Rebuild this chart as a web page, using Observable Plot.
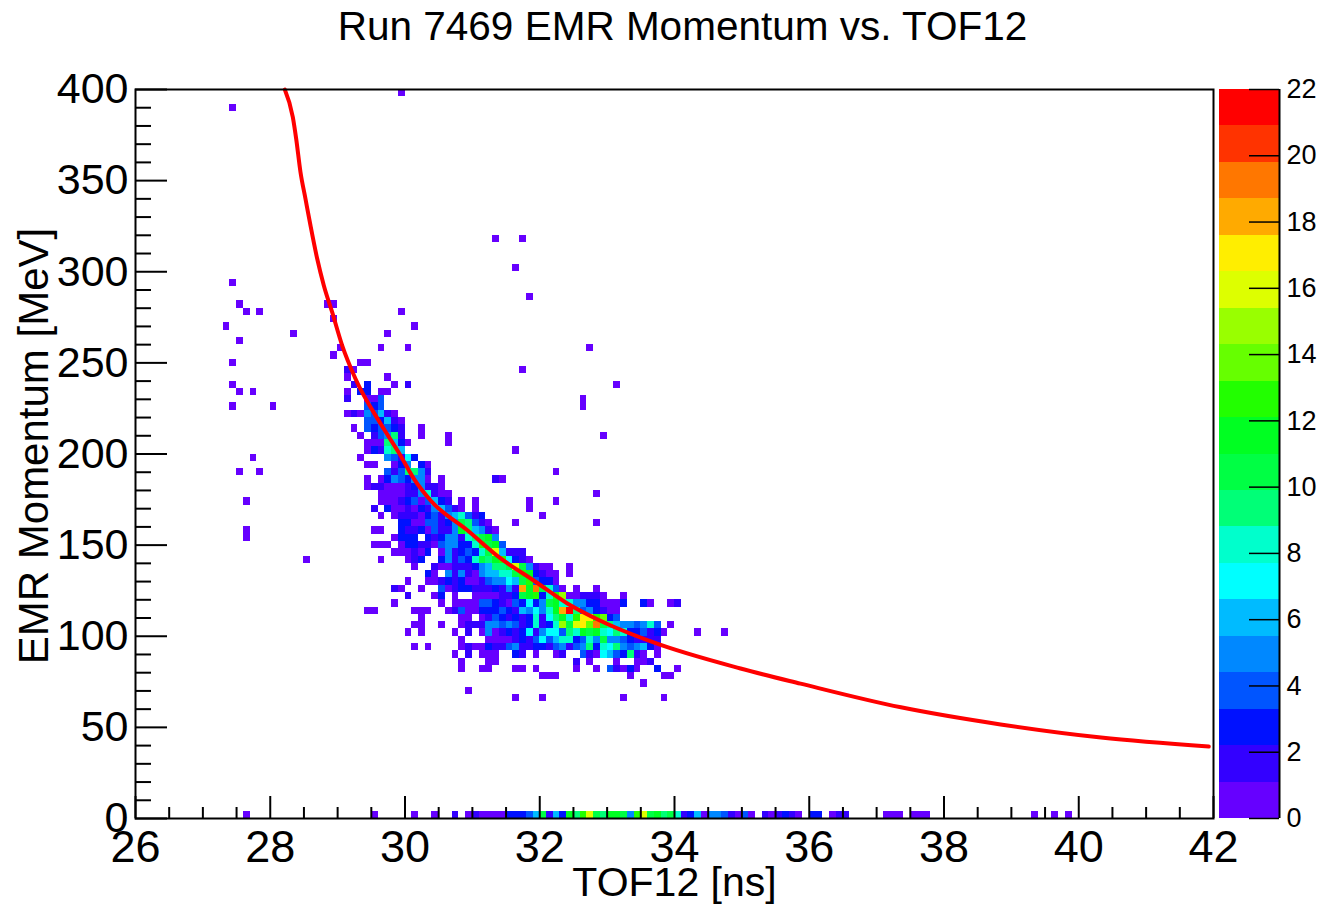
<!DOCTYPE html>
<html><head><meta charset="utf-8">
<script src="https://cdn.jsdelivr.net/npm/d3@7"></script>
<script src="https://cdn.jsdelivr.net/npm/@observablehq/plot@0.6"></script>
<style>
html,body{margin:0;padding:0;background:#fff;}
#wrap{position:relative;width:1322px;height:905px;overflow:hidden;}
#wrap svg{position:absolute;top:0;}
</style></head><body><div id="wrap"></div>
<script>
// ---- Histogram: each entry = one run of TOF bins (0.1 ns) in one momentum row (4 MeV) ----
const tofBinWidth = 0.1;   // ns
const momBinWidth = 4;     // MeV
// momentum (bin low edge, MeV) of each run
const momRowLow = [
  396, 388, 316, 300, 292, 284, 280, 280, 276, 276, 272, 268, 268, 264, 264, 260,
  256, 256, 252, 248, 248, 244, 244, 240, 236, 236, 236, 232, 232, 228, 228,
  224, 224, 224, 224, 220, 216, 212, 208, 208, 204, 200, 200, 196, 196, 192,
  188, 188, 188, 184, 180, 176, 176, 172, 172, 172, 168, 168, 164, 164, 160, 160,
  156, 156, 152, 152, 148, 144, 140, 140, 136, 132, 128, 124, 120, 116, 112, 108,
  104, 100, 100, 96, 92, 88, 84, 84, 80, 80, 76, 76, 76, 72, 68, 64, 64, 64, 64,
  0, 0, 0, 0, 0, 0, 0
];
// TOF (bin low edge, ns) where each run starts
const rowTofStart = [
  29.9, 27.4, 31.3, 31.6, 27.4, 31.8, 27.5, 28.8, 27.6, 29.9, 28.9, 27.3, 30.1, 28.3, 29.7, 27.5,
  29.0, 32.7, 28.9, 27.4, 29.3, 29.1, 31.7, 29.1, 27.4, 29.2, 33.1, 27.5, 29.1, 29.1, 32.6,
  27.4, 28.0, 29.4, 32.6, 29.1, 29.4, 29.2, 29.3, 32.9, 29.4, 29.4, 31.6, 27.7, 29.3, 29.4,
  27.5, 29.7, 32.2, 29.4, 29.4, 29.6, 32.8, 27.6, 29.6, 31.8, 29.5, 31.8, 29.6, 32.0, 29.9, 32.8,
  27.6, 29.5, 27.6, 29.8, 29.5, 29.8, 28.5, 29.6, 30.1, 30.3, 30.0, 29.8, 30.0, 29.8, 29.4, 30.2,
  30.1, 30.0, 34.3, 30.8, 30.1, 30.7, 30.8, 32.5, 30.8, 32.5, 32.0, 33.3, 33.8, 33.5, 30.9, 31.6, 32.0, 33.2, 33.8,
  27.6, 29.5, 30.1, 30.4, 30.7, 37.1, 39.3
];
// entries per consecutive TOF bin in each run
const rowCounts = [
  [1], [1], [1,0,0,0,1], [1], [1], [1], [1], [1,1], [1,0,1], [1], [1], [1], [1], [1], [1], [1],
  [1,0,0,0,0,0,1,0,0,0,1], [1], [1], [1], [1,1], [2,1], [1], [1,0,0,0,0,0,1], [1], [2,0,3,0,0,0,1,0,2], [1],
  [1,0,1], [1,0,3,3,0,1,1], [2,0,0,1,1,4], [1],
  [1], [1], [4,3,4], [1], [1,2,1,5,4,6,2,1], [4,4,3,6,2,1], [1,0,4,3,4,4,3,2,0,0,1],
  [1,0,2,4,5,9,2,0,0,1,0,0,0,1], [1], [1,1,1,9,6,3,1,0,0,0,0,0,1], [1,3,2,8,9,6], [1],
  [1], [1,0,0,0,5,4,2,7,3], [1,1,0,0,1,3,5,0,3,1],
  [1,0,0,1], [4,2,4,9,9,5,2], [1], [1,0,1,3,5,4,3,5,5,1,0,1,0,0,0,0,0,0,0,2,1],
  [1,2,2,1,1,1,2,3,5,2,2,1], [1,1,1,1,2,2,5,8,2,1,1], [1],
  [1], [1,1,1,2,3,4,1,4,6,3,2,0,1,0,1], [1,0,0,0,1],
  [2,0,3,1,1,2,1,3,2,5,6,4,2,1,0,1], [1], [1,0,1,2,2,2,1,3,4,2,5,6,8,4,2,3], [1],
  [3,3,1,1,4,4,2,3,5,10,9,4,2,1,0,0,0,1], [1],
  [1], [1,1,0,0,3,2,2,3,1,4,2,2,5,11,9,6,5,2,1],
  [1], [1,3,3,3,0,3,2,3,5,5,2,8,9,10,11,5],
  [1,1,1,0,1,3,3,2,2,1,4,5,5,3,3,8,13,10,11,4],
  [1,1,1,2,1,3,0,1,5,2,3,4,3,8,10,16,6,2,2,2],
  [1], [1,0,0,0,1,2,3,0,0,3,5,2,4,3,8,10,9,11,13,7,3,2,1],
  [1,0,0,2,1,1,2,2,2,3,5,6,9,9,10,16,10,5,2,1,1,0,0,1],
  [3,1,0,5,2,5,2,1,5,6,6,8,8,10,13,11,3,2,1,1,0,1],
  [1,0,0,1,1,2,3,2,3,1,1,2,4,5,5,7,6,10,13,4,3,3,1],
  [2,1,0,0,1,0,0,4,1,2,3,3,2,2,2,3,2,5,2,18,11,19,10,8,4,1,0,1,0,0,1],
  [2,0,0,0,1,3,0,1,0,0,1,1,1,1,2,2,3,10,11,13,3,8,13,15,1,1,2,2,2,1,0,0,1],
  [1,0,0,0,0,0,0,1,0,1,1,1,1,4,4,3,2,1,4,3,7,3,5,10,11,8,8,5,5,3,3,1,1,1,3,0,0,3,1,0,0,1,2],
  [1,1,0,0,0,0,0,1,1,1,0,0,1,2,4,1,1,3,3,3,4,3,2,6,5,7,5,8,11,18,22,9,4,5,3,2,1,1],
  [1,0,0,0,0,0,1,1,0,1,2,4,3,2,3,2,3,8,2,7,9,11,8,13,17,17,13,14,3,4],
  [1,1,0,0,1,0,0,1,2,2,2,5,5,4,5,4,2,3,8,2,3,8,15,10,16,17,14,19,10,9,6,5,5,4,5,8,4,0,1],
  [1,0,1,0,0,0,0,1,0,2,0,1,5,1,2,3,2,3,7,2,5,7,7,4,9,8,11,10,11,8,7,9,8,3,3,4,2,3,1], [1,0,0,0,1],
  [1,0,0,0,1,1,1,1,2,3,2,4,7,4,6,8,8,3,4,8,5,10,5,5,4,3,2,2,2,2],
  [1,0,1,0,0,0,0,1,2,1,1,3,2,2,4,5,2,2,3,3,2,4,5,2,4,5,9,3,8,7,9,5,4,5,6,3,1],
  [1,0,2,0,1,1,1,0,0,3,2,0,1,0,0,1,2,0,0,4,2,1,7,6,4,3,9,2,1,0,1],
  [1,0,0,0,1,1], [2,0,1,0,0,0,1,0,0,1,1,2],
  [1,0,0,1,1,0,0,0,1,1,0,1], [1,0,0,1,0,4,2,1,3,1,0,0,3,0,0,1],
  [1,1,1], [1], [1,1], [1], [1], [1], [1], [1], [1],
  [1], [1], [1], [1],
  [2,0,1,2,1,1,1,1,3,3,3,4,6,10,2,6,3,11,9,13,16,10,9,11,11,10,5,13,16,10,11,9,10,8,2,3,6,1,5,5,4,2,1,4,1,0,2,1,2,3,2,1,0,3,3,0,1,2,2],
  [1,1,1,0,1,1,1], [1,0,0,1,0,1]
];

// ---- Red curve ----
const curveTof = [28.216, 28.335, 28.385, 28.449, 28.523, 28.597, 28.697, 28.795, 28.919, 29.068, 29.265, 29.636, 29.92, 30.13, 30.38, 30.93, 31.42, 31.91, 32.41, 32.90, 33.69, 34.98, 35.87, 37.36, 38.84, 40.33, 41.93];
const curveMom = [400, 384.8, 372.9, 354.6, 340, 325.4, 307.1, 292.5, 277.8, 259.5, 241.3, 216.7, 200, 186.5, 174.5, 158, 142.7, 130.6, 118, 108.5, 96.6, 82.3, 74, 61, 51.6, 44.4, 39.5];

// ---- Axes / palette ----
const xMajor = [26, 28, 30, 32, 34, 36, 38, 40, 42];
const yMajor = [0, 50, 100, 150, 200, 250, 300, 350, 400];
const zLevels = [0, 1.1, 2.2, 3.3, 4.4, 5.5, 6.6, 7.7, 8.8, 9.9, 11, 12.1, 13.2, 14.3, 15.4, 16.5, 17.6, 18.7, 19.8, 20.9, 22];
const zTicks = [0, 2, 4, 6, 8, 10, 12, 14, 16, 18, 20, 22];
const palette = ["#6600ff","#3300ff","#0011ff","#0055ff","#0088ff","#00bbff","#00ffff","#00ffcc","#00ff77","#00ff44",
                 "#00ff22","#22ff00","#66ff00","#99ff00","#ddff00","#ffee00","#ffaa00","#ff7700","#ff3300","#ff0000"];
const titleText = "Run 7469 EMR Momentum vs. TOF12";
const xTitle = "TOF12 [ns]";
const yTitle = "EMR Momentum [MeV]";

const font = "'Liberation Sans', Arial, Helvetica, sans-serif";

const cells = [];
momRowLow.forEach((p, r) => {
  const t0 = rowTofStart[r];
  rowCounts[r].forEach((c, k) => {
    if (c > 0) cells.push({t: Math.round(t0 * 10 + k) / 10, p, c});
  });
});
const curve = curveTof.map((t, i) => ({t, p: curveMom[i]}));
const xMinor = d3.range(26.5, 42, 0.5).filter(v => !xMajor.includes(v));
const yMinor = d3.range(10, 400, 10).filter(v => !yMajor.includes(v));
const colorScale = {type: "threshold", domain: zLevels.slice(1, -1), range: palette};

const main = Plot.plot({
  width: 1322, height: 905,
  marginLeft: 135, marginRight: 109, marginTop: 89, marginBottom: 87,
  x: {domain: [26, 42]},
  y: {domain: [0, 400]},
  color: colorScale,
  style: {fontFamily: font, background: "transparent", color: "black"},
  marks: [
    Plot.rect(cells, {x1: "t", x2: d => d.t + tofBinWidth, y1: "p", y2: d => d.p + momBinWidth,
      fill: "c", shapeRendering: "crispEdges"}),
    Plot.line(curve, {x: "t", y: "p", stroke: "#ff0000", strokeWidth: 4, curve: "monotone-x"}),
    Plot.frame({stroke: "black", strokeWidth: 2}),
    Plot.axisX({ticks: xMajor, tickSize: -22, fill: "none", label: null, strokeWidth: 2}),
    Plot.axisX({ticks: xMinor, tickSize: -11, fill: "none", label: null, strokeWidth: 2}),
    Plot.axisY({ticks: yMajor, tickSize: -32, fill: "none", label: null, strokeWidth: 2}),
    Plot.axisY({ticks: yMinor, tickSize: -16, fill: "none", label: null, strokeWidth: 2}),
    Plot.axisX({ticks: xMajor, tickSize: 0, tickPadding: 12, fontSize: 45, label: null, tickFormat: d => String(d)}),
    Plot.axisY({ticks: yMajor, tickSize: 0, tickPadding: 7, fontSize: 43, label: null, tickFormat: d => String(d)}),
    Plot.text([titleText], {frameAnchor: "top", dx: 8, dy: -62, fontSize: 40.5, lineAnchor: "middle", text: d => d}),
    Plot.text([xTitle], {frameAnchor: "bottom", dy: 64, fontSize: 41, lineAnchor: "middle", text: d => d}),
    Plot.text([yTitle], {frameAnchor: "left", dx: -101, dy: -8, rotate: -90, fontSize: 42, textAnchor: "middle", lineAnchor: "middle", text: d => d})
  ]
});
main.style.left = "0px";

const bands = palette.map((col, i) => ({lo: zLevels[i], hi: zLevels[i + 1], col}));
const bar = Plot.plot({
  width: 109, height: 905,
  marginLeft: 6, marginRight: 43, marginTop: 89, marginBottom: 87,
  x: {domain: [0, 1], axis: null},
  y: {domain: [0, 22], axis: null},
  style: {fontFamily: font, background: "transparent", color: "black", overflow: "visible"},
  marks: [
    Plot.rect(bands, {x1: () => 0, x2: () => 1, y1: "lo", y2: "hi", fill: d => d.col, shapeRendering: "crispEdges"}),
    Plot.ruleY(zTicks, {y: d => d, x1: () => 0.5, x2: () => 1, stroke: "black", strokeWidth: 1.5}),
    Plot.ruleX([1], {stroke: "black", strokeWidth: 2}),
    Plot.text(zTicks, {x: () => 1, y: d => d, dx: 7, textAnchor: "start", fontSize: 27, text: d => String(d)})
  ]
});
bar.style.left = "1213px";

const wrap = document.getElementById("wrap");
wrap.appendChild(main);
wrap.appendChild(bar);
</script>
</body></html>
